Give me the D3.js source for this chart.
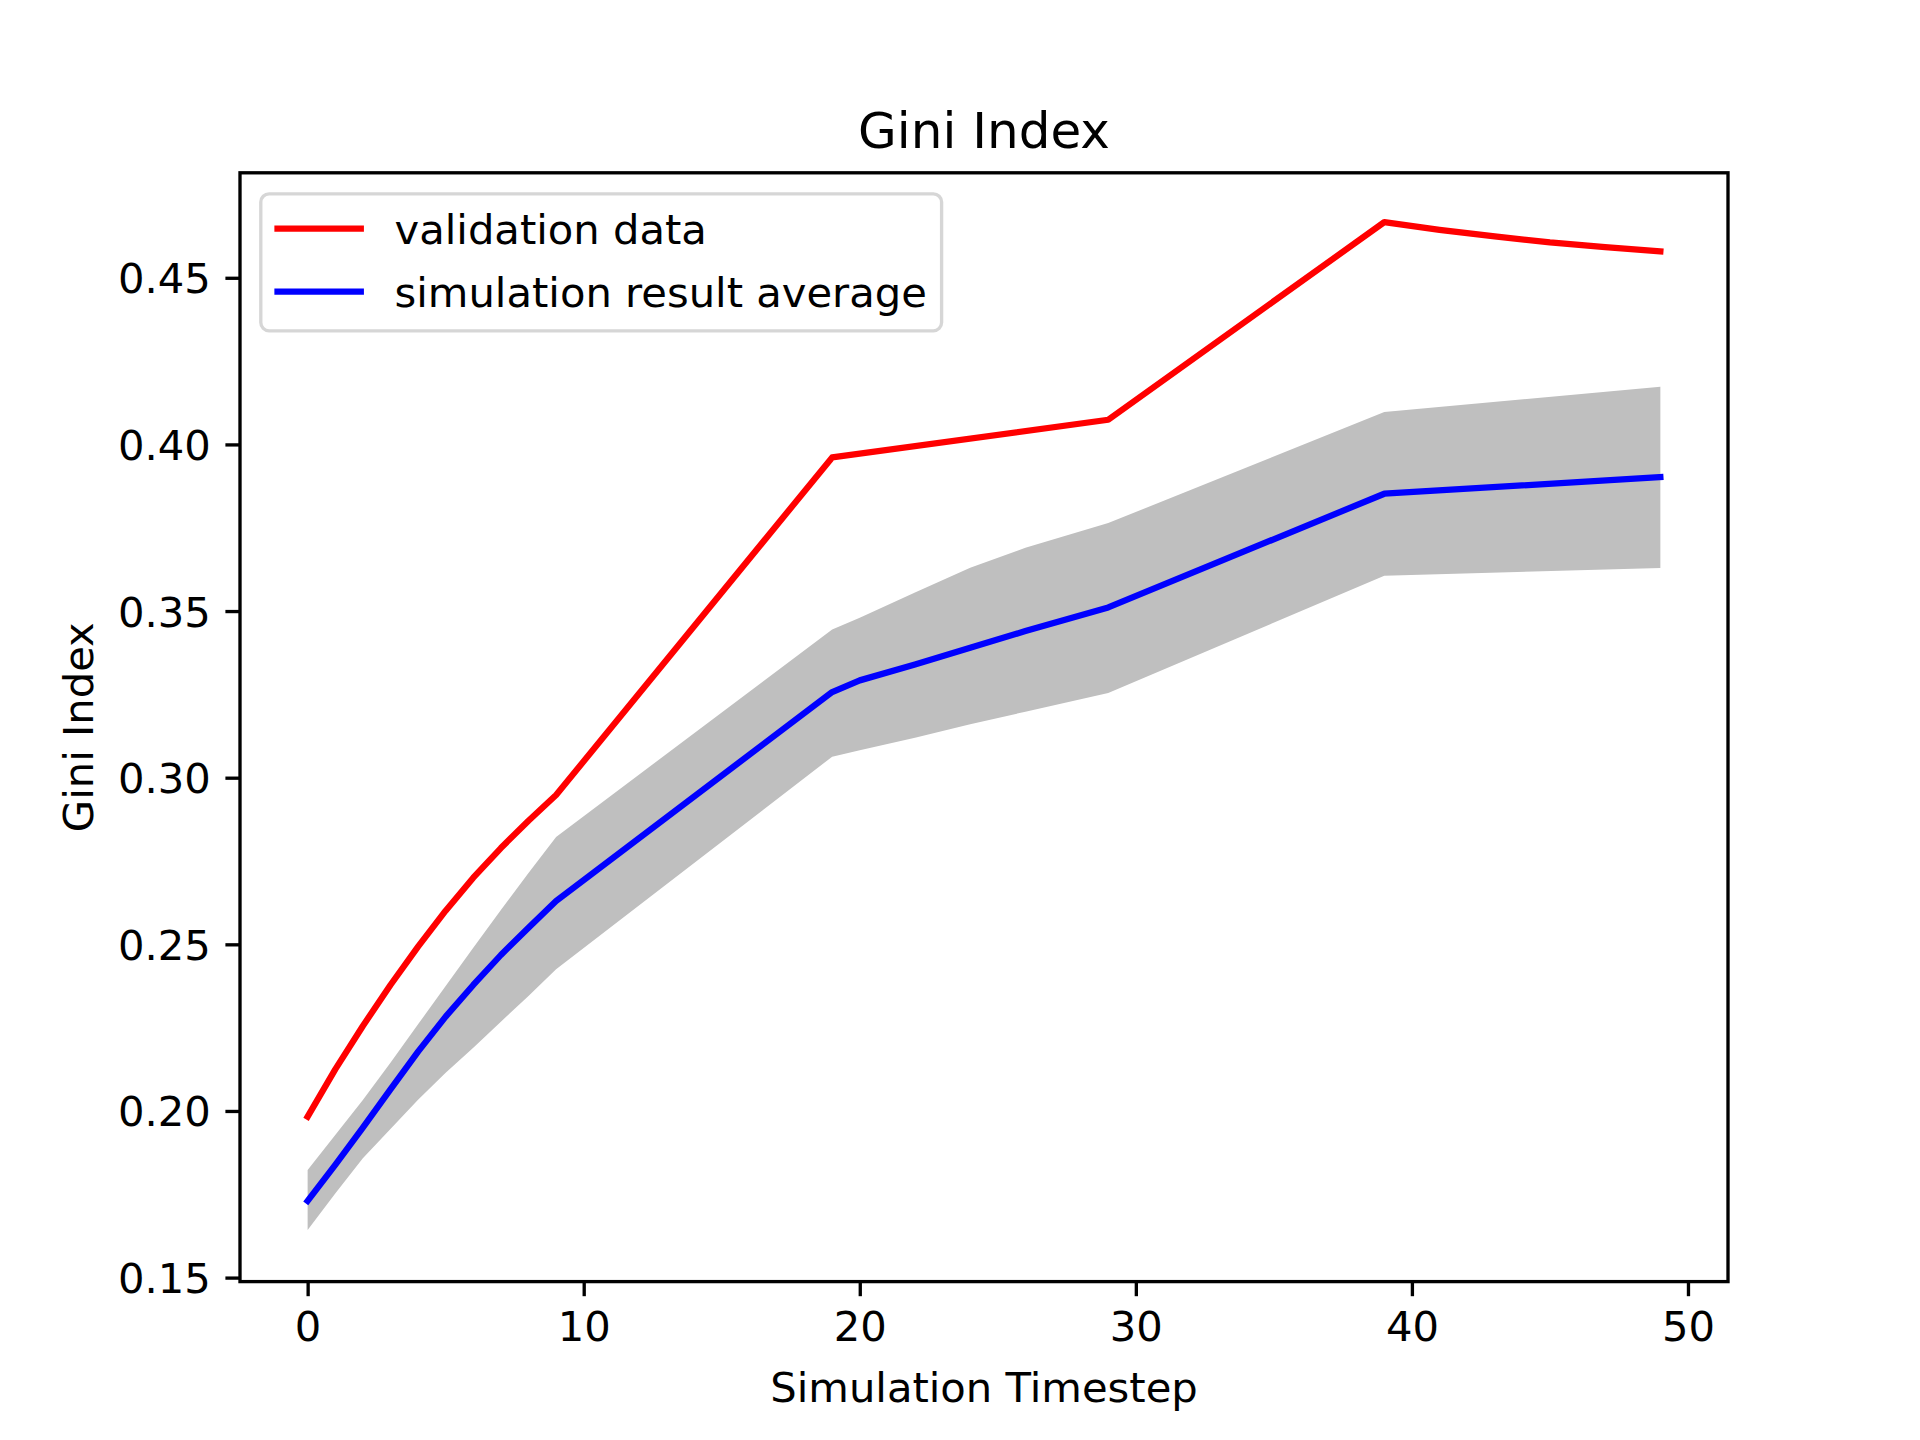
<!DOCTYPE html>
<html>
<head>
<meta charset="utf-8">
<script src="https://cdn.jsdelivr.net/npm/d3@7"></script>
<style>
  html, body { margin: 0; padding: 0; background: #ffffff; }
  svg { display: block; }
  text { font-family: "DejaVu Sans", sans-serif; fill: #000; }
</style>
</head>
<body>
<div id="chart"></div>
<script>
// ---- data ----
const chartTitle = "Gini Index";
const xAxisLabel = "Simulation Timestep";
const yAxisLabel = "Gini Index";
const seriesNames = ["validation data", "simulation result average"];

const validationSteps = [0, 1, 2, 3, 4, 5, 6, 7, 8, 9, 19, 29, 39, 41, 43, 45, 47, 49];
const validationGini  = [0.1983, 0.2125, 0.2255, 0.2378, 0.2493, 0.2601, 0.2700, 0.2789, 0.2871, 0.2948,
                         0.3961, 0.4074, 0.4667, 0.4644, 0.4624, 0.4606, 0.4592, 0.4579];

const simSteps = [0, 1, 2, 3, 4, 5, 6, 7, 8, 9, 19, 20, 22, 24, 26, 29, 39, 49];
const simMean  = [0.1730, 0.1838, 0.1950, 0.2065, 0.2178, 0.2283, 0.2378, 0.2468, 0.2550, 0.2630,
                  0.3257, 0.3292, 0.3340, 0.3390, 0.3440, 0.3511, 0.3852, 0.3902];
const simUpper = [0.1823, 0.1928, 0.2033, 0.2145, 0.2260, 0.2375, 0.2490, 0.2603, 0.2714, 0.2822,
                  0.3445, 0.3480, 0.3556, 0.3630, 0.3690, 0.3764, 0.4097, 0.4173];
const simLower = [0.1643, 0.1752, 0.1858, 0.1946, 0.2034, 0.2115, 0.2190, 0.2268, 0.2345, 0.2425,
                  0.3063, 0.3082, 0.3120, 0.3160, 0.3198, 0.3254, 0.3606, 0.3629];

const xTicks = [0, 10, 20, 30, 40, 50];
const yTicks = [0.15, 0.20, 0.25, 0.30, 0.35, 0.40, 0.45];

// ---- layout ----
const W = 1920, H = 1440;
const axL = 240, axR = 1728, axT = 172.8, axB = 1281.6;
const tickLen = 14.6, tickPad = 14.6, spineW = 3.33;

const svg = d3.select("#chart").append("svg")
  .attr("width", W).attr("height", H)
  .attr("viewBox", `0 0 ${W} ${H}`);
svg.append("rect").attr("width", W).attr("height", H).attr("fill", "#ffffff");

const x = d3.scaleLinear().domain([-2.45, 51.45]).range([axL, axR]);
const y = d3.scaleLinear().domain([0.1488, 0.4815]).range([axB, axT]);

const bandData = simSteps.map((t, i) => ({ t, lo: simLower[i], hi: simUpper[i], m: simMean[i] }));
const valData = validationSteps.map((t, i) => ({ t, v: validationGini[i] }));

// band
svg.append("path")
  .datum(bandData)
  .attr("fill", "#bfbfbf")
  .attr("stroke", "none")
  .attr("d", d3.area().x(d => x(d.t)).y0(d => y(d.lo)).y1(d => y(d.hi)));

// lines
svg.append("path")
  .datum(valData)
  .attr("fill", "none").attr("stroke", "#ff0000").attr("stroke-width", 6.25)
  .attr("stroke-linejoin", "round").attr("stroke-linecap", "square")
  .attr("d", d3.line().x(d => x(d.t)).y(d => y(d.v)));

svg.append("path")
  .datum(bandData)
  .attr("fill", "none").attr("stroke", "#0000ff").attr("stroke-width", 6.25)
  .attr("stroke-linejoin", "round").attr("stroke-linecap", "square")
  .attr("d", d3.line().x(d => x(d.t)).y(d => y(d.m)));

// axes
const xAxis = d3.axisBottom(x).tickValues(xTicks).tickFormat(d3.format("d"))
  .tickSizeInner(tickLen).tickSizeOuter(0).tickPadding(tickPad);
const yAxis = d3.axisLeft(y).tickValues(yTicks).tickFormat(d3.format(".2f"))
  .tickSizeInner(tickLen).tickSizeOuter(0).tickPadding(tickPad);

const gx = svg.append("g").attr("transform", `translate(0,${axB})`).call(xAxis);
const gy = svg.append("g").attr("transform", `translate(${axL},0)`).call(yAxis);
[gx, gy].forEach(g => {
  g.select(".domain").remove();
  g.selectAll(".tick line").attr("stroke", "#000").attr("stroke-width", spineW);
  g.selectAll(".tick text").attr("font-size", 41.7).attr("font-family", "DejaVu Sans").attr("fill", "#000");
});
gx.selectAll(".tick text").attr("dy", null).attr("y", tickLen + tickPad + 30.5);
gy.selectAll(".tick text").attr("dy", "0.36em");

// frame
svg.append("rect")
  .attr("x", axL).attr("y", axT)
  .attr("width", axR - axL).attr("height", axB - axT)
  .attr("fill", "none").attr("stroke", "#000").attr("stroke-width", spineW);

// title and axis labels
svg.append("text").attr("x", (axL + axR) / 2).attr("y", 148)
  .attr("text-anchor", "middle").attr("font-size", 50).text(chartTitle);
svg.append("text").attr("x", (axL + axR) / 2).attr("y", 1402)
  .attr("text-anchor", "middle").attr("font-size", 41.7).text(xAxisLabel);
svg.append("text")
  .attr("transform", `translate(93,${(axT + axB) / 2}) rotate(-90)`)
  .attr("text-anchor", "middle").attr("font-size", 41.7).text(yAxisLabel);

// legend
const lg = svg.append("g");
lg.append("rect")
  .attr("x", 260.8).attr("y", 193.8).attr("width", 680.8).attr("height", 137)
  .attr("rx", 8.3).attr("ry", 8.3)
  .attr("fill", "#ffffff").attr("fill-opacity", 0.8)
  .attr("stroke", "#cccccc").attr("stroke-opacity", 0.8).attr("stroke-width", spineW);
const legendColors = ["#ff0000", "#0000ff"];
const rowY = [228.7, 291.5];
seriesNames.forEach((name, i) => {
  lg.append("line")
    .attr("x1", 277.5).attr("x2", 360.8).attr("y1", rowY[i]).attr("y2", rowY[i])
    .attr("stroke", legendColors[i]).attr("stroke-width", 6.25).attr("stroke-linecap", "square");
  lg.append("text").attr("x", 394.5).attr("y", rowY[i] + 15.3)
    .attr("font-size", 41.7).text(name);
});
</script>
</body>
</html>
